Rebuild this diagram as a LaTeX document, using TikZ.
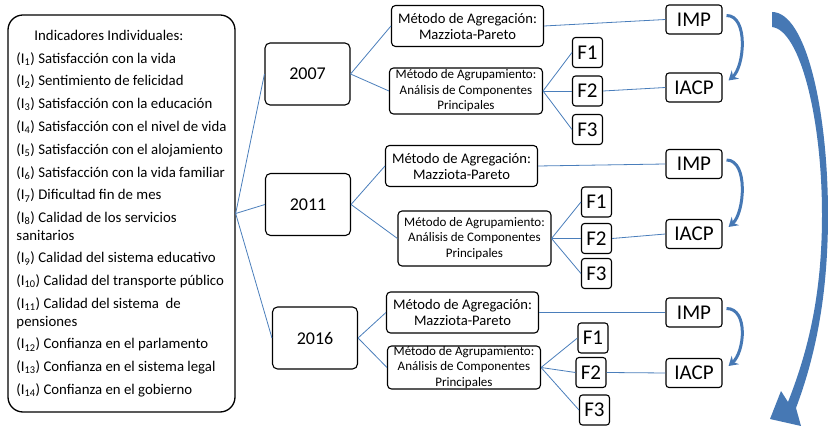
\documentclass[tikz,border=0pt]{standalone}
\usepackage{fontspec}
\setmainfont{Carlito}
\usepackage{tikz}
\usetikzlibrary{shapes,arrows.meta,positioning}
\definecolor{conector}{RGB}{74,126,187}
\definecolor{flecha}{RGB}{70,120,180}

\begin{document}
\begin{tikzpicture}[x=1pt, y=-1pt,
    box/.style={rectangle, draw, line width=1.1pt, rounded corners=5pt, align=center, inner sep=1pt},
    year/.style={box, minimum width=85pt, minimum height=62pt, font=\fontsize{18}{20}\selectfont},
    agreg/.style={box, rounded corners=4pt, minimum width=152pt, minimum height=41pt, font=\fontsize{14.6}{16}\selectfont},
    agrup/.style={box, rounded corners=4pt, minimum width=153pt, minimum height=46pt, inner ysep=0pt, font=\fontsize{13}{15.5}\selectfont},
    fac/.style={box, rounded corners=3pt, minimum width=30pt, minimum height=30pt, font=\fontsize{21}{23}\selectfont},
    indice/.style={box, rounded corners=3pt, minimum width=56pt, minimum height=29pt, font=\fontsize{21}{23}\selectfont},
    line/.style={draw, conector, line width=0.8pt},
    curva/.style={draw, flecha, line width=3pt, -{Stealth[length=9pt,width=11pt]}}]

    \useasboundingbox (0,0) rectangle (828,427);

    % indicadores
    \node [draw, line width=1.3pt, rounded corners=15pt, minimum width=227pt, minimum height=397pt,
           align=left, font=\fontsize{14.8}{17.5}\selectfont] (ind) at (121.5,213.5) {%
        \hspace*{18pt}Indicadores Individuales:\\[5.3pt]
        (I\textsubscript{1}) Satisfacción con la vida\\[5.3pt]
        (I\textsubscript{2}) Sentimiento de felicidad\\[5.3pt]
        (I\textsubscript{3}) Satisfacción con la educación\\[5.3pt]
        (I\textsubscript{4}) Satisfacción con el nivel de vida\\[5.3pt]
        (I\textsubscript{5}) Satisfacción con el alojamiento\\[5.3pt]
        (I\textsubscript{6}) Satisfacción con la vida familiar\\[5.3pt]
        (I\textsubscript{7}) Dificultad fin de mes\\[5.3pt]
        (I\textsubscript{8}) Calidad de los servicios\\
        sanitarios\\[5.3pt]
        (I\textsubscript{9}) Calidad del sistema educativo\\[5.3pt]
        (I\textsubscript{10}) Calidad del transporte público\\[5.3pt]
        (I\textsubscript{11}) Calidad del sistema\ \ de\\
        pensiones\\[5.3pt]
        (I\textsubscript{12}) Confianza en el parlamento\\[5.3pt]
        (I\textsubscript{13}) Confianza en el sistema legal\\[5.3pt]
        (I\textsubscript{14}) Confianza en el gobierno};

    % 2007
    \node [year] (y07) at (307.5,74) {2007};
    \node [agreg] (ag07) at (467.5,26) {Método de Agregación:\\ Mazziota-Pareto};
    \node [agrup] (acp07) at (466,91) {Método de Agrupamiento:\\ Análisis de Componentes\\ Principales};
    \node [fac] (f107) at (587.5,52.5) {F1};
    \node [fac] (f207) at (587.5,91) {F2};
    \node [fac] (f307) at (587.5,129.5) {F3};
    \node [indice] (imp07) at (694,19.5) {IMP};
    \node [indice] (iacp07) at (694,87.5) {IACP};

    % 2011
    \node [year] (y11) at (308,204.5) {2011};
    \node [agreg] (ag11) at (461.5,166) {Método de Agregación:\\ Mazziota-Pareto};
    \node [agrup, minimum height=55pt] (acp11) at (474.5,238.5) {Método de Agrupamiento:\\ Análisis de Componentes\\ Principales};
    \node [fac] (f111) at (596.5,202) {F1};
    \node [fac] (f211) at (596.5,238.5) {F2};
    \node [fac] (f311) at (596.5,273.5) {F3};
    \node [indice] (imp11) at (694,164) {IMP};
    \node [indice] (iacp11) at (694,234) {IACP};

    % 2016
    \node [year] (y16) at (315,338) {2016};
    \node [agreg] (ag16) at (462.5,312.5) {Método de Agregación:\\ Mazziota-Pareto};
    \node [agrup, minimum height=43pt] (acp16) at (464,367.5) {Método de Agrupamiento:\\ Análisis de Componentes\\ Principales};
    \node [fac] (f116) at (593,338) {F1};
    \node [fac] (f216) at (591,372.5) {F2};
    \node [fac] (f316) at (594.5,410) {F3};
    \node [indice] (imp16) at (694,312.5) {IMP};
    \node [indice] (iacp16) at (694,373) {IACP};

    \foreach \y in {07,11,16} {
        \path [line] (ind.east) -- (y\y.west);
        \path [line] (y\y.east) -- (ag\y.west);
        \path [line] (y\y.east) -- (acp\y.west);
        \path [line] (acp\y.east) -- (f1\y.west);
        \path [line] (acp\y.east) -- (f2\y.west);
        \path [line] (acp\y.east) -- (f3\y.west);
        \path [line] (ag\y.east) -- (imp\y.west);
        \path [line] (f2\y.east) -- (iacp\y.west);
        \path [curva] ([shift={(4,-4)}]imp\y.east) .. controls +(22,0) and +(16,-14) .. ([shift={(6,-7)}]iacp\y.east);
    }

    % flecha grande
    \fill [flecha] (772,12) .. controls (806,12) and (828,110) .. (828,215)
        .. controls (828,300) and (814,360) .. (796,408) -- (801,426) -- (770,419) -- (781,391) -- (788,402)
        .. controls (806,356) and (822,300) .. (822,215)
        .. controls (822,118) and (800,30) .. (772,27) -- cycle;
\end{tikzpicture}
\end{document}
